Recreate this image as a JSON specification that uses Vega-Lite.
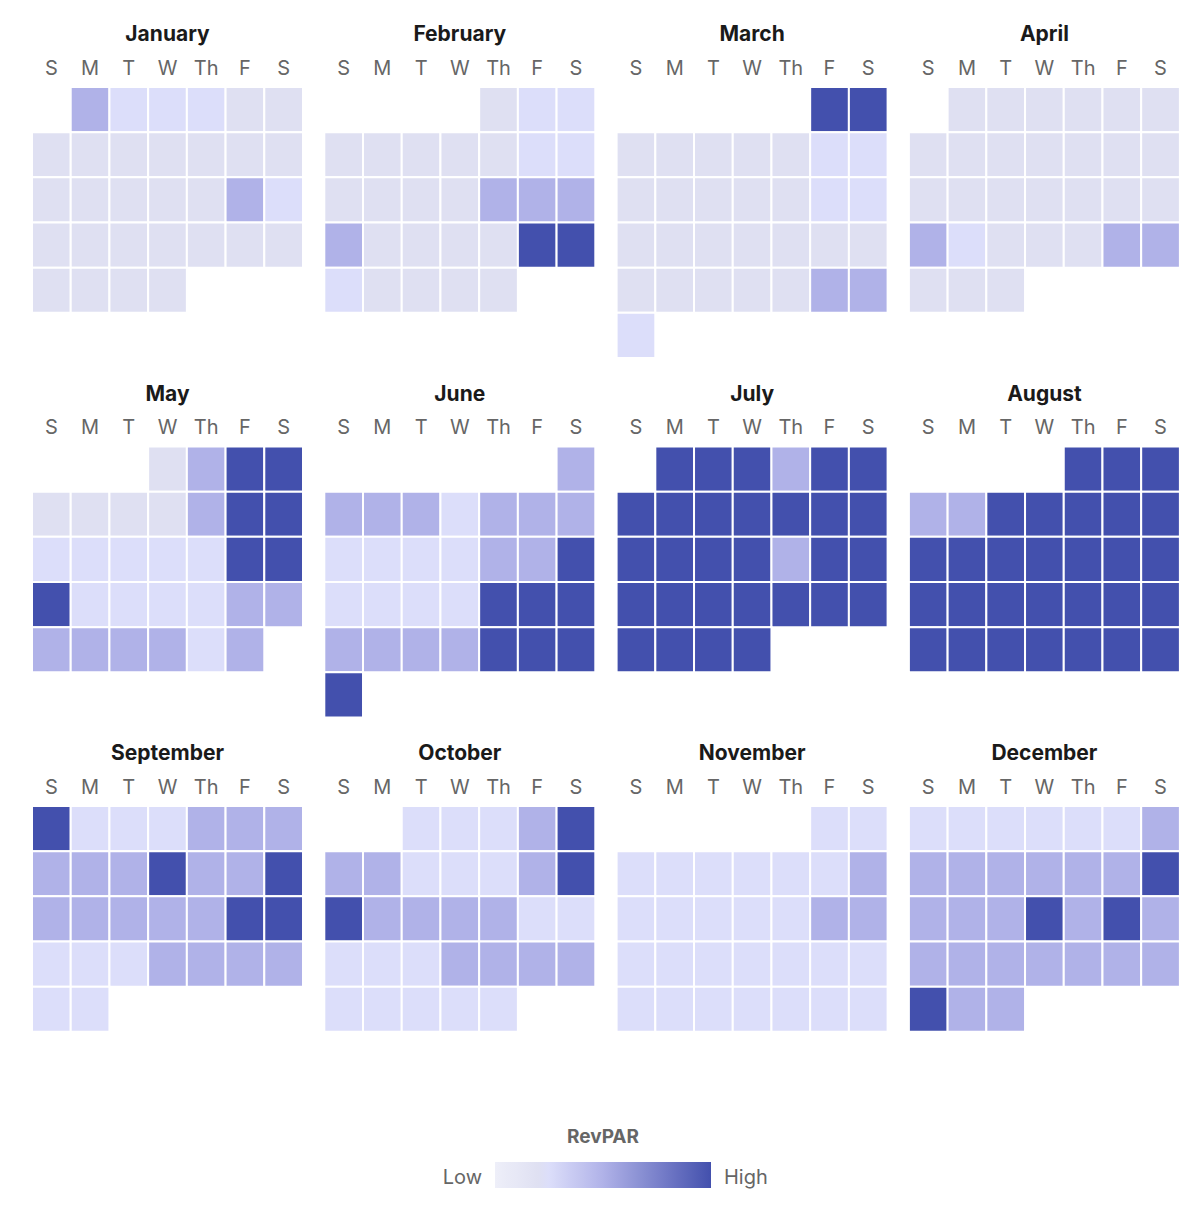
{
  "$schema": "https://vega.github.io/schema/vega-lite/v6.json",
  "padding": {"left": 31, "top": 24, "right": 5, "bottom": 5},
  "data": {
    "values": [
      {"m": 1, "d": 1, "revpar": 50}, {"m": 1, "d": 2, "revpar": 25}, {"m": 1, "d": 3, "revpar": 25}, {"m": 1, "d": 4, "revpar": 25}, {"m": 1, "d": 5, "revpar": 20}, {"m": 1, "d": 6, "revpar": 20},
      {"m": 1, "d": 7, "revpar": 20}, {"m": 1, "d": 8, "revpar": 20}, {"m": 1, "d": 9, "revpar": 20}, {"m": 1, "d": 10, "revpar": 20}, {"m": 1, "d": 11, "revpar": 20}, {"m": 1, "d": 12, "revpar": 20}, {"m": 1, "d": 13, "revpar": 20},
      {"m": 1, "d": 14, "revpar": 20}, {"m": 1, "d": 15, "revpar": 20}, {"m": 1, "d": 16, "revpar": 20}, {"m": 1, "d": 17, "revpar": 20}, {"m": 1, "d": 18, "revpar": 20}, {"m": 1, "d": 19, "revpar": 50}, {"m": 1, "d": 20, "revpar": 25},
      {"m": 1, "d": 21, "revpar": 20}, {"m": 1, "d": 22, "revpar": 20}, {"m": 1, "d": 23, "revpar": 20}, {"m": 1, "d": 24, "revpar": 20}, {"m": 1, "d": 25, "revpar": 20}, {"m": 1, "d": 26, "revpar": 20}, {"m": 1, "d": 27, "revpar": 20},
      {"m": 1, "d": 28, "revpar": 20}, {"m": 1, "d": 29, "revpar": 20}, {"m": 1, "d": 30, "revpar": 20}, {"m": 1, "d": 31, "revpar": 20},

      {"m": 2, "d": 1, "revpar": 20}, {"m": 2, "d": 2, "revpar": 25}, {"m": 2, "d": 3, "revpar": 25},
      {"m": 2, "d": 4, "revpar": 20}, {"m": 2, "d": 5, "revpar": 20}, {"m": 2, "d": 6, "revpar": 20}, {"m": 2, "d": 7, "revpar": 20}, {"m": 2, "d": 8, "revpar": 20}, {"m": 2, "d": 9, "revpar": 25}, {"m": 2, "d": 10, "revpar": 25},
      {"m": 2, "d": 11, "revpar": 20}, {"m": 2, "d": 12, "revpar": 20}, {"m": 2, "d": 13, "revpar": 20}, {"m": 2, "d": 14, "revpar": 20}, {"m": 2, "d": 15, "revpar": 50}, {"m": 2, "d": 16, "revpar": 50}, {"m": 2, "d": 17, "revpar": 50},
      {"m": 2, "d": 18, "revpar": 50}, {"m": 2, "d": 19, "revpar": 20}, {"m": 2, "d": 20, "revpar": 20}, {"m": 2, "d": 21, "revpar": 20}, {"m": 2, "d": 22, "revpar": 20}, {"m": 2, "d": 23, "revpar": 100}, {"m": 2, "d": 24, "revpar": 100},
      {"m": 2, "d": 25, "revpar": 25}, {"m": 2, "d": 26, "revpar": 20}, {"m": 2, "d": 27, "revpar": 20}, {"m": 2, "d": 28, "revpar": 20}, {"m": 2, "d": 29, "revpar": 20},

      {"m": 3, "d": 1, "revpar": 100}, {"m": 3, "d": 2, "revpar": 100},
      {"m": 3, "d": 3, "revpar": 20}, {"m": 3, "d": 4, "revpar": 20}, {"m": 3, "d": 5, "revpar": 20}, {"m": 3, "d": 6, "revpar": 20}, {"m": 3, "d": 7, "revpar": 20}, {"m": 3, "d": 8, "revpar": 25}, {"m": 3, "d": 9, "revpar": 25},
      {"m": 3, "d": 10, "revpar": 20}, {"m": 3, "d": 11, "revpar": 20}, {"m": 3, "d": 12, "revpar": 20}, {"m": 3, "d": 13, "revpar": 20}, {"m": 3, "d": 14, "revpar": 20}, {"m": 3, "d": 15, "revpar": 25}, {"m": 3, "d": 16, "revpar": 25},
      {"m": 3, "d": 17, "revpar": 20}, {"m": 3, "d": 18, "revpar": 20}, {"m": 3, "d": 19, "revpar": 20}, {"m": 3, "d": 20, "revpar": 20}, {"m": 3, "d": 21, "revpar": 20}, {"m": 3, "d": 22, "revpar": 20}, {"m": 3, "d": 23, "revpar": 20},
      {"m": 3, "d": 24, "revpar": 20}, {"m": 3, "d": 25, "revpar": 20}, {"m": 3, "d": 26, "revpar": 20}, {"m": 3, "d": 27, "revpar": 20}, {"m": 3, "d": 28, "revpar": 20}, {"m": 3, "d": 29, "revpar": 50}, {"m": 3, "d": 30, "revpar": 50},
      {"m": 3, "d": 31, "revpar": 25},

      {"m": 4, "d": 1, "revpar": 20}, {"m": 4, "d": 2, "revpar": 20}, {"m": 4, "d": 3, "revpar": 20}, {"m": 4, "d": 4, "revpar": 20}, {"m": 4, "d": 5, "revpar": 20}, {"m": 4, "d": 6, "revpar": 20},
      {"m": 4, "d": 7, "revpar": 20}, {"m": 4, "d": 8, "revpar": 20}, {"m": 4, "d": 9, "revpar": 20}, {"m": 4, "d": 10, "revpar": 20}, {"m": 4, "d": 11, "revpar": 20}, {"m": 4, "d": 12, "revpar": 20}, {"m": 4, "d": 13, "revpar": 20},
      {"m": 4, "d": 14, "revpar": 20}, {"m": 4, "d": 15, "revpar": 20}, {"m": 4, "d": 16, "revpar": 20}, {"m": 4, "d": 17, "revpar": 20}, {"m": 4, "d": 18, "revpar": 20}, {"m": 4, "d": 19, "revpar": 20}, {"m": 4, "d": 20, "revpar": 20},
      {"m": 4, "d": 21, "revpar": 50}, {"m": 4, "d": 22, "revpar": 25}, {"m": 4, "d": 23, "revpar": 20}, {"m": 4, "d": 24, "revpar": 20}, {"m": 4, "d": 25, "revpar": 20}, {"m": 4, "d": 26, "revpar": 50}, {"m": 4, "d": 27, "revpar": 50},
      {"m": 4, "d": 28, "revpar": 20}, {"m": 4, "d": 29, "revpar": 20}, {"m": 4, "d": 30, "revpar": 20},

      {"m": 5, "d": 1, "revpar": 20}, {"m": 5, "d": 2, "revpar": 50}, {"m": 5, "d": 3, "revpar": 100}, {"m": 5, "d": 4, "revpar": 100},
      {"m": 5, "d": 5, "revpar": 20}, {"m": 5, "d": 6, "revpar": 20}, {"m": 5, "d": 7, "revpar": 20}, {"m": 5, "d": 8, "revpar": 20}, {"m": 5, "d": 9, "revpar": 50}, {"m": 5, "d": 10, "revpar": 100}, {"m": 5, "d": 11, "revpar": 100},
      {"m": 5, "d": 12, "revpar": 25}, {"m": 5, "d": 13, "revpar": 25}, {"m": 5, "d": 14, "revpar": 25}, {"m": 5, "d": 15, "revpar": 25}, {"m": 5, "d": 16, "revpar": 25}, {"m": 5, "d": 17, "revpar": 100}, {"m": 5, "d": 18, "revpar": 100},
      {"m": 5, "d": 19, "revpar": 100}, {"m": 5, "d": 20, "revpar": 25}, {"m": 5, "d": 21, "revpar": 25}, {"m": 5, "d": 22, "revpar": 25}, {"m": 5, "d": 23, "revpar": 25}, {"m": 5, "d": 24, "revpar": 50}, {"m": 5, "d": 25, "revpar": 50},
      {"m": 5, "d": 26, "revpar": 50}, {"m": 5, "d": 27, "revpar": 50}, {"m": 5, "d": 28, "revpar": 50}, {"m": 5, "d": 29, "revpar": 50}, {"m": 5, "d": 30, "revpar": 25}, {"m": 5, "d": 31, "revpar": 50},

      {"m": 6, "d": 1, "revpar": 50},
      {"m": 6, "d": 2, "revpar": 50}, {"m": 6, "d": 3, "revpar": 50}, {"m": 6, "d": 4, "revpar": 50}, {"m": 6, "d": 5, "revpar": 25}, {"m": 6, "d": 6, "revpar": 50}, {"m": 6, "d": 7, "revpar": 50}, {"m": 6, "d": 8, "revpar": 50},
      {"m": 6, "d": 9, "revpar": 25}, {"m": 6, "d": 10, "revpar": 25}, {"m": 6, "d": 11, "revpar": 25}, {"m": 6, "d": 12, "revpar": 25}, {"m": 6, "d": 13, "revpar": 50}, {"m": 6, "d": 14, "revpar": 50}, {"m": 6, "d": 15, "revpar": 100},
      {"m": 6, "d": 16, "revpar": 25}, {"m": 6, "d": 17, "revpar": 25}, {"m": 6, "d": 18, "revpar": 25}, {"m": 6, "d": 19, "revpar": 25}, {"m": 6, "d": 20, "revpar": 100}, {"m": 6, "d": 21, "revpar": 100}, {"m": 6, "d": 22, "revpar": 100},
      {"m": 6, "d": 23, "revpar": 50}, {"m": 6, "d": 24, "revpar": 50}, {"m": 6, "d": 25, "revpar": 50}, {"m": 6, "d": 26, "revpar": 50}, {"m": 6, "d": 27, "revpar": 100}, {"m": 6, "d": 28, "revpar": 100}, {"m": 6, "d": 29, "revpar": 100},
      {"m": 6, "d": 30, "revpar": 100},

      {"m": 7, "d": 1, "revpar": 100}, {"m": 7, "d": 2, "revpar": 100}, {"m": 7, "d": 3, "revpar": 100}, {"m": 7, "d": 4, "revpar": 50}, {"m": 7, "d": 5, "revpar": 100}, {"m": 7, "d": 6, "revpar": 100},
      {"m": 7, "d": 7, "revpar": 100}, {"m": 7, "d": 8, "revpar": 100}, {"m": 7, "d": 9, "revpar": 100}, {"m": 7, "d": 10, "revpar": 100}, {"m": 7, "d": 11, "revpar": 100}, {"m": 7, "d": 12, "revpar": 100}, {"m": 7, "d": 13, "revpar": 100},
      {"m": 7, "d": 14, "revpar": 100}, {"m": 7, "d": 15, "revpar": 100}, {"m": 7, "d": 16, "revpar": 100}, {"m": 7, "d": 17, "revpar": 100}, {"m": 7, "d": 18, "revpar": 50}, {"m": 7, "d": 19, "revpar": 100}, {"m": 7, "d": 20, "revpar": 100},
      {"m": 7, "d": 21, "revpar": 100}, {"m": 7, "d": 22, "revpar": 100}, {"m": 7, "d": 23, "revpar": 100}, {"m": 7, "d": 24, "revpar": 100}, {"m": 7, "d": 25, "revpar": 100}, {"m": 7, "d": 26, "revpar": 100}, {"m": 7, "d": 27, "revpar": 100},
      {"m": 7, "d": 28, "revpar": 100}, {"m": 7, "d": 29, "revpar": 100}, {"m": 7, "d": 30, "revpar": 100}, {"m": 7, "d": 31, "revpar": 100},

      {"m": 8, "d": 1, "revpar": 100}, {"m": 8, "d": 2, "revpar": 100}, {"m": 8, "d": 3, "revpar": 100},
      {"m": 8, "d": 4, "revpar": 50}, {"m": 8, "d": 5, "revpar": 50}, {"m": 8, "d": 6, "revpar": 100}, {"m": 8, "d": 7, "revpar": 100}, {"m": 8, "d": 8, "revpar": 100}, {"m": 8, "d": 9, "revpar": 100}, {"m": 8, "d": 10, "revpar": 100},
      {"m": 8, "d": 11, "revpar": 100}, {"m": 8, "d": 12, "revpar": 100}, {"m": 8, "d": 13, "revpar": 100}, {"m": 8, "d": 14, "revpar": 100}, {"m": 8, "d": 15, "revpar": 100}, {"m": 8, "d": 16, "revpar": 100}, {"m": 8, "d": 17, "revpar": 100},
      {"m": 8, "d": 18, "revpar": 100}, {"m": 8, "d": 19, "revpar": 100}, {"m": 8, "d": 20, "revpar": 100}, {"m": 8, "d": 21, "revpar": 100}, {"m": 8, "d": 22, "revpar": 100}, {"m": 8, "d": 23, "revpar": 100}, {"m": 8, "d": 24, "revpar": 100},
      {"m": 8, "d": 25, "revpar": 100}, {"m": 8, "d": 26, "revpar": 100}, {"m": 8, "d": 27, "revpar": 100}, {"m": 8, "d": 28, "revpar": 100}, {"m": 8, "d": 29, "revpar": 100}, {"m": 8, "d": 30, "revpar": 100}, {"m": 8, "d": 31, "revpar": 100},

      {"m": 9, "d": 1, "revpar": 100}, {"m": 9, "d": 2, "revpar": 25}, {"m": 9, "d": 3, "revpar": 25}, {"m": 9, "d": 4, "revpar": 25}, {"m": 9, "d": 5, "revpar": 50}, {"m": 9, "d": 6, "revpar": 50}, {"m": 9, "d": 7, "revpar": 50},
      {"m": 9, "d": 8, "revpar": 50}, {"m": 9, "d": 9, "revpar": 50}, {"m": 9, "d": 10, "revpar": 50}, {"m": 9, "d": 11, "revpar": 100}, {"m": 9, "d": 12, "revpar": 50}, {"m": 9, "d": 13, "revpar": 50}, {"m": 9, "d": 14, "revpar": 100},
      {"m": 9, "d": 15, "revpar": 50}, {"m": 9, "d": 16, "revpar": 50}, {"m": 9, "d": 17, "revpar": 50}, {"m": 9, "d": 18, "revpar": 50}, {"m": 9, "d": 19, "revpar": 50}, {"m": 9, "d": 20, "revpar": 100}, {"m": 9, "d": 21, "revpar": 100},
      {"m": 9, "d": 22, "revpar": 25}, {"m": 9, "d": 23, "revpar": 25}, {"m": 9, "d": 24, "revpar": 25}, {"m": 9, "d": 25, "revpar": 50}, {"m": 9, "d": 26, "revpar": 50}, {"m": 9, "d": 27, "revpar": 50}, {"m": 9, "d": 28, "revpar": 50},
      {"m": 9, "d": 29, "revpar": 25}, {"m": 9, "d": 30, "revpar": 25},

      {"m": 10, "d": 1, "revpar": 25}, {"m": 10, "d": 2, "revpar": 25}, {"m": 10, "d": 3, "revpar": 25}, {"m": 10, "d": 4, "revpar": 50}, {"m": 10, "d": 5, "revpar": 100},
      {"m": 10, "d": 6, "revpar": 50}, {"m": 10, "d": 7, "revpar": 50}, {"m": 10, "d": 8, "revpar": 25}, {"m": 10, "d": 9, "revpar": 25}, {"m": 10, "d": 10, "revpar": 25}, {"m": 10, "d": 11, "revpar": 50}, {"m": 10, "d": 12, "revpar": 100},
      {"m": 10, "d": 13, "revpar": 100}, {"m": 10, "d": 14, "revpar": 50}, {"m": 10, "d": 15, "revpar": 50}, {"m": 10, "d": 16, "revpar": 50}, {"m": 10, "d": 17, "revpar": 50}, {"m": 10, "d": 18, "revpar": 25}, {"m": 10, "d": 19, "revpar": 25},
      {"m": 10, "d": 20, "revpar": 25}, {"m": 10, "d": 21, "revpar": 25}, {"m": 10, "d": 22, "revpar": 25}, {"m": 10, "d": 23, "revpar": 50}, {"m": 10, "d": 24, "revpar": 50}, {"m": 10, "d": 25, "revpar": 50}, {"m": 10, "d": 26, "revpar": 50},
      {"m": 10, "d": 27, "revpar": 25}, {"m": 10, "d": 28, "revpar": 25}, {"m": 10, "d": 29, "revpar": 25}, {"m": 10, "d": 30, "revpar": 25}, {"m": 10, "d": 31, "revpar": 25},

      {"m": 11, "d": 1, "revpar": 25}, {"m": 11, "d": 2, "revpar": 25},
      {"m": 11, "d": 3, "revpar": 25}, {"m": 11, "d": 4, "revpar": 25}, {"m": 11, "d": 5, "revpar": 25}, {"m": 11, "d": 6, "revpar": 25}, {"m": 11, "d": 7, "revpar": 25}, {"m": 11, "d": 8, "revpar": 25}, {"m": 11, "d": 9, "revpar": 50},
      {"m": 11, "d": 10, "revpar": 25}, {"m": 11, "d": 11, "revpar": 25}, {"m": 11, "d": 12, "revpar": 25}, {"m": 11, "d": 13, "revpar": 25}, {"m": 11, "d": 14, "revpar": 25}, {"m": 11, "d": 15, "revpar": 50}, {"m": 11, "d": 16, "revpar": 50},
      {"m": 11, "d": 17, "revpar": 25}, {"m": 11, "d": 18, "revpar": 25}, {"m": 11, "d": 19, "revpar": 25}, {"m": 11, "d": 20, "revpar": 25}, {"m": 11, "d": 21, "revpar": 25}, {"m": 11, "d": 22, "revpar": 25}, {"m": 11, "d": 23, "revpar": 25},
      {"m": 11, "d": 24, "revpar": 25}, {"m": 11, "d": 25, "revpar": 25}, {"m": 11, "d": 26, "revpar": 25}, {"m": 11, "d": 27, "revpar": 25}, {"m": 11, "d": 28, "revpar": 25}, {"m": 11, "d": 29, "revpar": 25}, {"m": 11, "d": 30, "revpar": 25},

      {"m": 12, "d": 1, "revpar": 25}, {"m": 12, "d": 2, "revpar": 25}, {"m": 12, "d": 3, "revpar": 25}, {"m": 12, "d": 4, "revpar": 25}, {"m": 12, "d": 5, "revpar": 25}, {"m": 12, "d": 6, "revpar": 25}, {"m": 12, "d": 7, "revpar": 50},
      {"m": 12, "d": 8, "revpar": 50}, {"m": 12, "d": 9, "revpar": 50}, {"m": 12, "d": 10, "revpar": 50}, {"m": 12, "d": 11, "revpar": 50}, {"m": 12, "d": 12, "revpar": 50}, {"m": 12, "d": 13, "revpar": 50}, {"m": 12, "d": 14, "revpar": 100},
      {"m": 12, "d": 15, "revpar": 50}, {"m": 12, "d": 16, "revpar": 50}, {"m": 12, "d": 17, "revpar": 50}, {"m": 12, "d": 18, "revpar": 100}, {"m": 12, "d": 19, "revpar": 50}, {"m": 12, "d": 20, "revpar": 100}, {"m": 12, "d": 21, "revpar": 50},
      {"m": 12, "d": 22, "revpar": 50}, {"m": 12, "d": 23, "revpar": 50}, {"m": 12, "d": 24, "revpar": 50}, {"m": 12, "d": 25, "revpar": 50}, {"m": 12, "d": 26, "revpar": 50}, {"m": 12, "d": 27, "revpar": 50}, {"m": 12, "d": 28, "revpar": 50},
      {"m": 12, "d": 29, "revpar": 100}, {"m": 12, "d": 30, "revpar": 50}, {"m": 12, "d": 31, "revpar": 50}
    ]
  },
  "transform": [
    {"calculate": "datetime(2024, datum.m - 1, datum.d)", "as": "date"},
    {"calculate": "day(datum.date)", "as": "dow"},
    {"calculate": "floor((datum.d - 1 + day(datetime(2024, datum.m - 1, 1))) / 7)", "as": "week"},
    {"calculate": "timeFormat(datum.date, '%B')", "as": "month"}
  ],
  "facet": {
    "field": "month",
    "type": "nominal",
    "sort": {"field": "m", "op": "min"},
    "title": null,
    "header": {
      "labelFont": "Inter",
      "labelFontSize": 21,
      "labelFontWeight": "bold",
      "labelColor": "#1a1a1a",
      "labelPadding": 13
    }
  },
  "columns": 4,
  "spacing": {"column": 19.3, "row": 24.5},
  "resolve": {"axis": {"x": "independent"}},
  "spec": {
    "width": 271,
    "height": 271,
    "mark": {"type": "rect", "stroke": "white", "strokeWidth": 2},
    "encoding": {
      "x": {
        "field": "dow",
        "type": "ordinal",
        "scale": {"domain": [0, 1, 2, 3, 4, 5, 6], "paddingInner": 0, "paddingOuter": 0},
        "axis": {
          "orient": "top",
          "title": null,
          "labelExpr": "['S', 'M', 'T', 'W', 'Th', 'F', 'S'][datum.value]",
          "labelAngle": 0,
          "labelFont": "Inter",
          "labelFontSize": 20,
          "labelColor": "#666666",
          "labelPadding": 9,
          "domain": false,
          "ticks": false,
          "tickSize": 0
        }
      },
      "y": {
        "field": "week",
        "type": "ordinal",
        "scale": {"domain": [0, 1, 2, 3, 4, 5], "paddingInner": 0, "paddingOuter": 0},
        "axis": null
      },
      "color": {
        "field": "revpar",
        "type": "quantitative",
        "scale": {
          "domain": [0, 20, 25, 50, 100],
          "range": ["#eeeff9", "#dfe0f2", "#dcdefa", "#b0b2e8", "#4350ad"],
          "interpolate": "rgb"
        },
        "legend": {
          "title": "RevPAR",
          "orient": "none",
          "legendX": 463,
          "legendY": 1041,
          "direction": "horizontal",
          "gradientLength": 216,
          "gradientThickness": 26,
          "gradientStrokeWidth": 0,
          "values": [0, 100],
          "labelExpr": "datum.value <= 0 ? 'Low' : 'High'",
          "labelOffset": -13,
          "labelFont": "Inter",
          "labelFontSize": 20,
          "labelColor": "#666666",
          "titleFont": "Inter",
          "titleFontSize": 19,
          "titleFontWeight": "bold",
          "titleColor": "#666666",
          "titleAnchor": "middle",
          "titlePadding": 15,
          "encoding": {
            "labels": {
              "align": {"condition": {"test": "datum.perc < 0.5", "value": "right"}, "value": "left"},
              "baseline": {"value": "middle"},
              "dx": {"condition": {"test": "datum.perc < 0.5", "value": -13}, "value": 13},
              "dy": {"value": 3}
            }
          }
        }
      }
    }
  },
  "config": {"view": {"stroke": null}}
}
